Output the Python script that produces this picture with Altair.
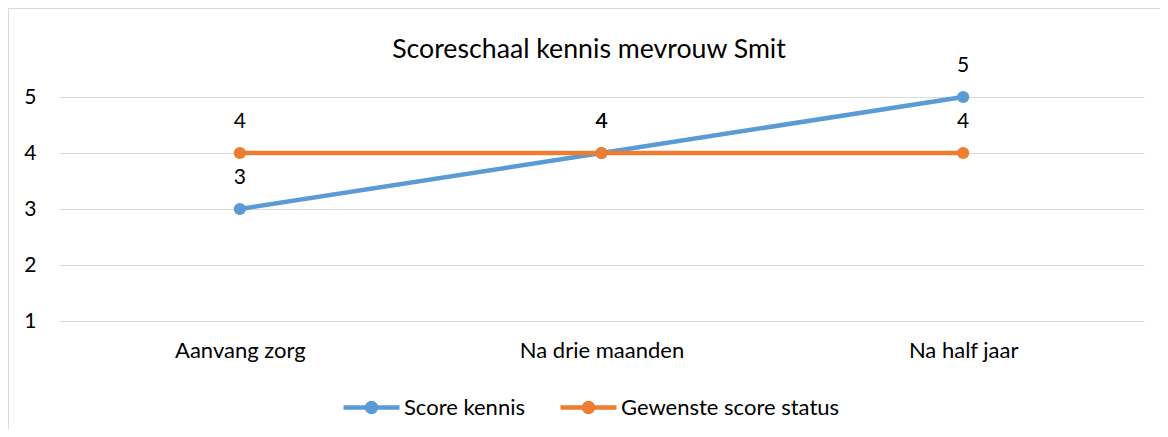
import altair as alt
import pandas as pd

categories = ["Aanvang zorg", "Na drie maanden", "Na half jaar"]
series_names = ["Score kennis", "Gewenste score status"]
score_kennis = [3, 4, 5]
gewenste_score = [4, 4, 4]
series_colors = ["#5B9BD5", "#ED7D31"]
y_ticks = [1, 2, 3, 4, 5]
title_text = "Scoreschaal kennis mevrouw Smit"

rows = []
for name, vals in zip(series_names, [score_kennis, gewenste_score]):
    for c, v in zip(categories, vals):
        rows.append({"moment": c, "score": v, "reeks": name})
df = pd.DataFrame(rows)

W, H = 1085, 224
FONT = "Lato"
FS = 22

x_enc = alt.X("moment:N", sort=categories, scale=alt.Scale(domain=categories, paddingInner=0, paddingOuter=0),
              axis=alt.Axis(title=None, labelFontSize=FS, labelColor="#000000", labelFont=FONT,
                            ticks=False, tickSize=0, domain=False, labelPadding=19, labelAngle=0, grid=False))
y_enc = alt.Y("score:Q", scale=alt.Scale(domain=[1, 5], nice=False, zero=False),
              axis=alt.Axis(title=None, values=y_ticks, labelFontSize=21, labelColor="#000000", labelFont=FONT,
                            ticks=False, tickSize=0, domain=False, labelPadding=23, grid=True,
                            gridColor="#D9D9D9", gridWidth=1))

base = alt.Chart(df)

line_layers = []
for name, col in zip(series_names, series_colors):
    line_layers.append(
        base.transform_filter(alt.datum.reeks == name)
        .mark_line(strokeWidth=4.5, color=col)
        .encode(x=x_enc, y=y_enc)
    )

color_scale = alt.Scale(domain=series_names, range=series_colors)
legend = alt.Legend(
    title=None, orient="none", direction="horizontal", legendX=282, legendY=280,
    symbolType="M-1,0H1M0.16,0A0.16,0.16 0 1,1 -0.16,0A0.16,0.16 0 1,1 0.16,0Z",
    symbolSize=3136, symbolStrokeWidth=4.5, labelFontSize=FS, labelFont=FONT,
    labelColor="#000000", labelOffset=2, columnPadding=26, symbolOpacity=1, labelLimit=600,
)

points = base.mark_point(filled=True, size=150, opacity=1, strokeWidth=0).encode(
    x=x_enc, y=y_enc,
    fill=alt.Fill("reeks:N", scale=color_scale, legend=legend),
    stroke=alt.Stroke("reeks:N", scale=color_scale, legend=legend),
)

labels = base.mark_text(fontSize=21, font=FONT, color="#000000", baseline="middle", dy=-31).encode(
    x=x_enc, y=y_enc, text="score:Q"
)

title = alt.Chart(pd.DataFrame({"t": [title_text]})).mark_text(
    fontSize=26.7, font=FONT, color="#000000", baseline="alphabetic", align="center"
).encode(text="t:N", x=alt.value(530), y=alt.value(-39.5))

border_top = base.mark_rule(color="#D9D9D9", strokeWidth=1).encode(
    x=alt.value(-51), x2=alt.value(W + 60), y=alt.value(-88.5)
)
border_left = base.mark_rule(color="#D9D9D9", strokeWidth=1).encode(
    x=alt.value(-50.5), y=alt.value(-89), y2=alt.value(H + 120)
)

chart = alt.layer(border_top, border_left, *line_layers, points, labels, title).properties(
    width=W, height=H,
    autosize=alt.AutoSizeParams(type="none"),
    padding={"left": 51, "top": 89, "right": 16, "bottom": 108},
).configure(font=FONT, background="white").configure_view(stroke=None, strokeWidth=0)

chart.save("out.html", embed_options={"renderer": "svg", "actions": False})
